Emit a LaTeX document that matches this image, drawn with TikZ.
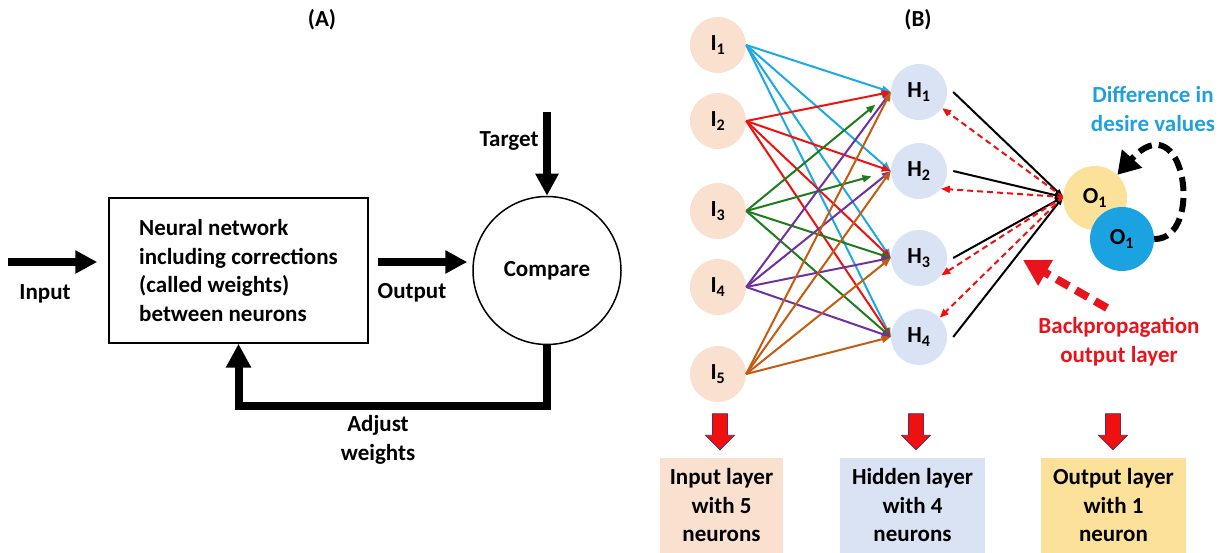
\documentclass[tikz,border=0pt]{standalone}
\usepackage{fontspec}
\setmainfont{Carlito}
\usetikzlibrary{arrows.meta,calc,shapes.arrows}
\definecolor{peach}{HTML}{FAE0CF}
\definecolor{hid}{HTML}{DAE3F3}
\definecolor{yel}{HTML}{FCE19A}
\definecolor{oblue}{HTML}{1AA3E0}
\definecolor{ecyan}{HTML}{1CA9E6}
\definecolor{ered}{HTML}{F01010}
\definecolor{egreen}{HTML}{1E7B1E}
\definecolor{epurple}{HTML}{7030A0}
\definecolor{eorange}{HTML}{C55A11}
\definecolor{txtblue}{HTML}{21A0DC}
\definecolor{txtred}{HTML}{E8141B}
\definecolor{arrowline}{HTML}{6E2850}
\tikzset{
  bigarrow/.style={line width=8pt, -{Triangle[length=22pt,width=22pt]}},
  neuron/.style={circle, minimum size=56pt, inner sep=0pt, font=\fontsize{23}{26}\selectfont\bfseries},
  edge/.style={line width=2pt, -{Triangle[length=9pt,width=7pt]}},
  blk/.style={line width=2pt, black, -{Triangle[length=8pt,width=6pt]}},
  rdash/.style={line width=2pt, ered, dash pattern=on 6pt off 4pt, -{Triangle[length=9pt,width=7pt]}},
  larrow/.style={shape=single arrow, draw=arrowline, line width=0.8pt, fill=ered, rotate=-90,
     minimum height=36pt, inner sep=7pt, single arrow head extend=7pt, single arrow head indent=0pt},
  lbox/.style={minimum height=95pt, align=center, inner sep=0pt},
}
\begin{document}
\begin{tikzpicture}[x=1pt,y=-1pt, font=\fontsize{23}{28.5}\selectfont\bfseries]
\useasboundingbox (0,0) rectangle (1224,553);

% ---------- Panel A ----------
\node (tA) at (322,20) {(A)};
\node[draw, line width=1.5pt, minimum width=259pt, minimum height=145pt, align=left, inner sep=0pt] (nn) at (238.5,270.5)
  {Neural network\\including corrections\\(called weights)\\between neurons};
\node[draw, circle, line width=1.5pt, minimum size=148pt, inner sep=0pt] (cmp) at (547,270.5) {Compare};
\coordinate (inS) at (8,262);
\draw[bigarrow] (inS) -- ([yshift=8.5pt,xshift=-11pt]nn.west);
\node (lin) at (45,294) {Input};
\draw[bigarrow] ([yshift=8.5pt,xshift=9pt]nn.east) -- ([yshift=8.5pt,xshift=-5pt]cmp.west);
\node (lout) at (412,293) {Output};
\coordinate (tgtS) at (547,112);
\draw[bigarrow] (tgtS) -- (cmp.north);
\node (ltgt) at (509,141) {Target};
\draw[line width=8pt, line join=miter, -{Triangle[length=24pt,width=24pt]}] (cmp.south) -- ++(0,60.5) -| (nn.south);
\node[align=center] (ladj) at (378,440) {Adjust\\weights};

% ---------- Panel B ----------
\node (tB) at (918,20) {(B)};
\foreach \n/\y in {1/45,2/121,3/211,4/287,5/374}
  \node[neuron, fill=peach] (I\n) at (718,\y) {I\textsubscript{\n}};
\foreach \n/\y in {1/92,2/171,3/258,4/337}
  \node[neuron, fill=hid] (H\n) at (919,\y) {H\textsubscript{\n}};

\foreach \h in {1,...,4} \draw[edge, ecyan] (I1.east) -- (H\h.west);
\foreach \h in {1,...,4} \draw[edge, ered] (I2.east) -- (H\h.west);
\draw[edge, egreen, shorten >=20pt] (I3.east) -- (H1.west);
\draw[edge, egreen, shorten >=20pt] (I3.east) -- (H2.west);
\draw[edge, egreen] (I3.east) -- (H3.west);
\draw[edge, egreen] (I3.east) -- (H4.west);
\foreach \h in {1,...,4} \draw[edge, epurple] (I4.east) -- (H\h.west);
\foreach \h in {1,...,4} \draw[edge, eorange] (I5.east) -- (H\h.west);

\coordinate (conv) at (1063,197);
\foreach \h in {1,...,4} \draw[blk] ([xshift=6pt]H\h.east) -- (conv);
\draw[rdash] (conv) -- (H1.-35);
\draw[rdash] (conv) -- (H2.-39);
\draw[rdash] (conv) -- (H3.-38);
\draw[rdash] (conv) -- (H4.43);

\node[neuron, minimum size=64pt, fill=yel] (Oy) at (1095,198) {O\textsubscript{1}};
\node[neuron, minimum size=64pt, fill=oblue] (Ob) at (1122,239) {O\textsubscript{1}};
\draw[line width=6pt, dash pattern=on 14pt off 7pt, -{Triangle[length=22pt,width=26pt]}]
  (Ob.east) .. controls (1205,240) and (1185,100) .. (Oy.46);
\node[txtblue, align=center] (ldiff) at (1153,109) {Difference in\\desire values};

\coordinate (bpS) at (1107,308);
\coordinate (bpE) at (1023,260);
\draw[line width=8pt, txtred, dash pattern=on 14pt off 8pt, -{Triangle[length=26pt,width=28pt]}] (bpS) -- (bpE);
\node[txtred, align=center] (lbp) at (1119,341.5) {Backpropagation\\output layer};

% ---------- bottom ----------
\node[larrow] (a1) at (720,428) {};
\node[larrow] (a2) at (916,428) {};
\node[larrow] (a3) at (1113,428) {};
\node[lbox, fill=peach, minimum width=123pt] (b1) at (721.5,505.5) {Input layer\\with 5\\neurons};
\node[lbox, fill=hid, minimum width=145pt] (b2) at (912.5,505.5) {Hidden layer\\with 4\\neurons};
\node[lbox, fill=yel, minimum width=145pt] (b3) at (1113.5,505.5) {Output layer\\with 1\\neuron};
\end{tikzpicture}
\end{document}
